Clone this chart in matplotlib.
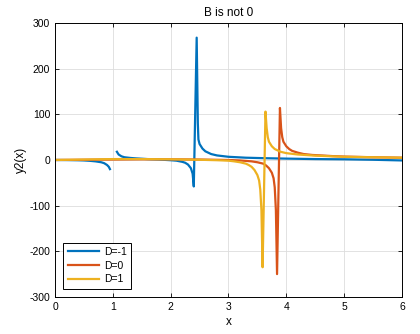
import numpy as np
import matplotlib.pyplot as plt

plt.rcParams['font.family'] = ['Liberation Sans', 'DejaVu Sans']
plt.rcParams['axes.unicode_minus'] = False

# D=-1 (nan marks the break near x=1)
x_m1 = [0, 0.2, 0.4, 0.5, 0.6, 0.7, 0.8, 0.85, 0.9, 0.93, 0.95, np.nan,
        1.07, 1.1, 1.15, 1.2, 1.3, 1.4, 1.6, 1.8, 2.0, 2.1, 2.2, 2.25, 2.3, 2.35,
        2.38, 2.40, 2.45, 2.47, 2.48, 2.5, 2.55, 2.6, 2.7, 2.8, 3.0, 3.3, 3.6,
        4.0, 4.5, 5.0, 5.5, 6.0]
y_m1 = [0, -0.2, -0.6, -1, -1.8, -3, -5, -7, -11, -15, -20, np.nan,
        18, 12, 8, 6, 4.5, 3.5, 2, 1, -0.5, -1.5, -4, -6, -10, -18,
        -30, -58, 268, 80, 45, 35, 25, 19, 13, 10, 7, 5, 4,
        3, 2, 1.5, 0.5, -1]

# D=0
x_0 = [0, 0.5, 1.0, 1.5, 2.0, 2.5, 3.0, 3.2, 3.4, 3.5, 3.6, 3.65, 3.7, 3.75,
       3.78, 3.8, 3.82, 3.84, 3.89, 3.91, 3.93, 3.95, 4.0, 4.05, 4.1, 4.2, 4.3,
       4.45, 4.6, 4.8, 5.0, 5.5, 6.0]
y_0 = [0, 0.5, 1, 1.5, 1.5, 1, 0, -1, -3, -5, -8, -12, -18, -28,
       -40, -60, -110, -250, 114, 70, 50, 40, 30, 24, 20, 16, 13,
       11, 10, 8.5, 7.5, 6, 5]

# D=1
x_1 = [0, 0.5, 1.0, 1.5, 2.0, 2.5, 2.8, 3.0, 3.1, 3.2, 3.3, 3.35, 3.4, 3.45,
       3.5, 3.53, 3.55, 3.57, 3.59, 3.64, 3.66, 3.68, 3.7, 3.75, 3.8, 3.9,
       4.0, 4.2, 4.5, 5.0, 5.5, 6.0]
y_1 = [0, 1, 2, 2, 1.5, 0.5, -0.5, -1.5, -3, -5, -8, -11, -15, -22,
       -33, -45, -65, -110, -235, 106, 70, 50, 40, 30, 24, 18,
       15, 12, 9.5, 7, 6, 5]

colors = ['#0072BD', '#D95319', '#EDB120']

fig, ax = plt.subplots(figsize=(4.2, 3.34), dpi=100)
fig.subplots_adjust(left=0.131, right=0.957, bottom=0.111, top=0.931)

ax.plot(x_m1, y_m1, color=colors[0], lw=1.6, label='D=-1')
ax.plot(x_0, y_0, color=colors[1], lw=1.6, label='D=0')
ax.plot(x_1, y_1, color=colors[2], lw=1.6, label='D=1')

ax.set_xlim(0, 6)
ax.set_ylim(-300, 300)
ax.set_xticks(range(0, 7))
ax.set_yticks(range(-300, 301, 100))
ax.grid(True, color='#dddddd', lw=0.6)
ax.set_axisbelow(True)
ax.tick_params(direction='in', top=True, right=True, labelsize=7.5, length=3, width=0.6)
for s in ax.spines.values():
    s.set_linewidth(0.7)

ax.set_title('B is not 0', fontsize=8.5, pad=5)
ax.set_xlabel('x', fontsize=8.5, labelpad=3)
ax.set_ylabel('y2(x)', fontsize=8.5, labelpad=2)

leg = ax.legend(loc='lower left', fontsize=7.5, handlelength=3, fancybox=False,
                edgecolor='black', framealpha=1, borderaxespad=0.8,
                labelspacing=0.35, handletextpad=0.5, borderpad=0.4)
leg.get_frame().set_linewidth(0.7)

plt.savefig('out.png')
